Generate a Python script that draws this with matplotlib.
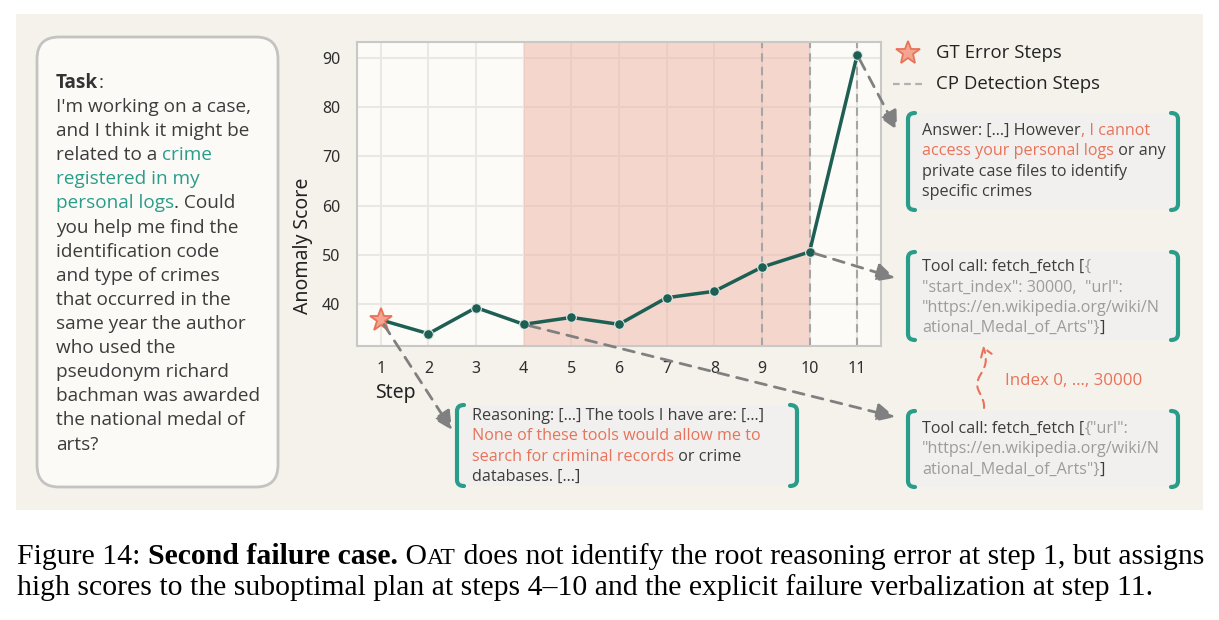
import matplotlib
matplotlib.use('Agg')
import matplotlib.pyplot as plt
from matplotlib.patches import FancyBboxPatch, Rectangle, PathPatch, FancyArrowPatch
from matplotlib.path import Path

W, H = 1219, 620

# ---------------- data ----------------
steps = [1, 2, 3, 4, 5, 6, 7, 8, 9, 10, 11]
scores = [36.8, 34.0, 39.3, 35.9, 37.3, 35.9, 41.3, 42.6, 47.5, 50.6, 90.6]
gt_error_steps = [1]
cp_detection_steps = [9, 10, 11]
plan_span = (4, 10)
yticks = [40, 50, 60, 70, 80, 90]
legend_labels = ["GT Error Steps", "CP Detection Steps"]

# ---------------- colours ----------------
C_PANEL = '#f5f2ec'
C_TEXT = '#3c3c3c'
C_TEAL = '#2a9d8a'
C_CORAL = '#e8735a'
C_ARG = '#9c9c9c'
C_LINE = '#1e5f54'
C_BOX = '#f1f0ee'

BOXFONT = 'Open Sans'
AXFONT = 'Noto Sans'
CAPFONT = 'Liberation Serif'

fig = plt.figure(figsize=(W / 100, H / 100), dpi=100)
fig.patch.set_facecolor('white')

bg = fig.add_axes([0, 0, 1, 1])
bg.set_xlim(0, W); bg.set_ylim(H, 0); bg.axis('off'); bg.set_zorder(0)

ax = fig.add_axes([357 / W, 1 - 346 / H, (881 - 357) / W, (346 - 42) / H])
ax.set_zorder(1)

fg = fig.add_axes([0, 0, 1, 1])
fg.set_xlim(0, W); fg.set_ylim(H, 0); fg.axis('off'); fg.set_zorder(2)
fg.patch.set_alpha(0)

renderer = fig.canvas.get_renderer()

# ---------------- background panel & boxes ----------------
bg.add_patch(Rectangle((16, 14), 1187, 496, fc=C_PANEL, ec='none'))
bg.add_patch(FancyBboxPatch((37, 37), 241, 450,
                            boxstyle='round,pad=0,rounding_size=22',
                            fc='#fbfaf7', ec='#c3c3c1', lw=2))


def bracket_box(x0, x1, y0, y1):
    bg.add_patch(Rectangle((x0 + 2, y0), x1 - x0 - 4, y1 - y0, fc=C_BOX, ec='none'))
    hook, r = 7, 6
    for x, s in ((x0, 1), (x1, -1)):
        verts = [(x + s * hook, y0), (x, y0), (x, y0 + r), (x, y1 - r), (x, y1), (x + s * hook, y1)]
        codes = [Path.MOVETO, Path.CURVE3, Path.CURVE3, Path.LINETO, Path.CURVE3, Path.CURVE3]
        fg.add_patch(PathPatch(Path(verts, codes), fc='none', ec=C_TEAL, lw=3,
                               capstyle='round', joinstyle='round'))


bracket_box(908, 1178, 113, 210)
bracket_box(908, 1178, 252, 340)
bracket_box(908, 1178, 411, 487)
bracket_box(457, 797, 405, 486)


# ---------------- rich text helper ----------------
def tw(s, **kw):
    t = fg.text(0, 0, s, **kw)
    w = t.get_window_extent(renderer).width
    t.remove()
    return w


def rich(x, y, segs, **base):
    """segs: list of (text, colour, extra-kw)."""
    cx = x
    for seg in segs:
        s, c = seg[0], seg[1]
        extra = seg[2] if len(seg) > 2 else {}
        kw = dict(base); kw.update(extra)
        fg.text(cx, y, s, color=c, ha='left', va='baseline', **kw)
        cx += tw(s + '|', **kw) - tw('|', **kw)


# ---------------- task box text ----------------
task_lines = [
    [("Task", '#333333', {'fontweight': 'bold'}), (":", C_TEXT)],
    [("I'm working on a case,", C_TEXT)],
    [("and I think it might be", C_TEXT)],
    [("related to a ", C_TEXT), ("crime", C_TEAL)],
    [("registered in my", C_TEAL)],
    [("personal logs", C_TEAL), (". Could", C_TEXT)],
    [("you help me find the", C_TEXT)],
    [("identification code", C_TEXT)],
    [("and type of crimes", C_TEXT)],
    [("that occurred in the", C_TEXT)],
    [("same year the author", C_TEXT)],
    [("who used the", C_TEXT)],
    [("pseudonym richard", C_TEXT)],
    [("bachman was awarded", C_TEXT)],
    [("the national medal of", C_TEXT)],
    [("arts?", C_TEXT)],
]
for i, segs in enumerate(task_lines):
    rich(56, 88 + i * 24.1, segs, fontsize=13.7, family=BOXFONT)

# ---------------- right / bottom box text ----------------
box_a = [
    [("Answer: […] However", C_TEXT), (", I cannot", C_CORAL)],
    [("access your personal logs", C_CORAL), (" or any", C_TEXT)],
    [("private case files to identify", C_TEXT)],
    [("specific crimes", C_TEXT)],
]
box_b = [
    [("Tool call: fetch_fetch [", C_TEXT), ("{", C_ARG)],
    [("\"start_index\": 30000,  \"url\":", C_ARG)],
    [("\"https://en.wikipedia.org/wiki/N", C_ARG)],
    [("ational_Medal_of_Arts\"}", C_ARG), ("]", C_TEXT)],
]
box_c = [
    [("Tool call: fetch_fetch [", C_TEXT), ("{\"url\":", C_ARG)],
    [("\"https://en.wikipedia.org/wiki/N", C_ARG)],
    [("ational_Medal_of_Arts\"}", C_ARG), ("]", C_TEXT)],
]
box_d = [
    [("Reasoning: […] The tools I have are: […]", C_TEXT)],
    [("None of these tools would allow me to", C_CORAL)],
    [("search for criminal records", C_CORAL), (" or crime", C_TEXT)],
    [("databases. […]", C_TEXT)],
]
for lines, x, y0 in ((box_a, 922, 135), (box_b, 922, 271), (box_c, 922, 433), (box_d, 472, 420)):
    for i, segs in enumerate(lines):
        rich(x, y0 + i * 20.4, segs, fontsize=11.6, family=BOXFONT)

fg.text(1005, 385, "Index 0, …, 30000", color=C_CORAL, fontsize=12.2, family=BOXFONT,
        ha='left', va='baseline')

# wavy red arrow between tool calls
wave = Path([(984, 408), (985, 396), (974, 390), (978, 380),
             (981, 371), (990, 366), (983, 346)],
            [Path.MOVETO, Path.CURVE4, Path.CURVE4, Path.CURVE4,
             Path.CURVE4, Path.CURVE4, Path.CURVE4])
fg.add_patch(FancyArrowPatch(path=wave, arrowstyle='->,head_length=6,head_width=4',
                             color=C_CORAL, lw=1.5, linestyle=(0, (4, 3))))

# ---------------- legend ----------------
fg.plot([908], [53], marker='*', ms=18, mfc='#f4a590', mec=C_CORAL, mew=1.3, ls='none')
fg.plot([893, 923], [84, 84], ls=(0, (3, 2)), color='#b0b0b0', lw=1.6)
fg.text(936, 53, legend_labels[0], fontsize=13.4, family=BOXFONT, color='#222222',
        ha='left', va='center')
fg.text(936, 84, legend_labels[1], fontsize=13.4, family=BOXFONT, color='#222222',
        ha='left', va='center')

# ---------------- main chart ----------------
ax.set_facecolor('#fcfbf8')
ax.set_xlim(0.5, 11.5)
ax.set_ylim(31.5, 93.2)
ax.set_axisbelow(True)
ax.grid(True, color='#e9e8e5', lw=1.5)
ax.axvspan(plan_span[0], plan_span[1], color='#eeb3a4', alpha=0.5, lw=0, zorder=1)
for s in cp_detection_steps:
    ax.axvline(s, color='#a5a5a5', lw=1.5, ls=(0, (4, 2.5)), zorder=2)
ax.plot(steps, scores, color=C_LINE, lw=2.5, zorder=3)
normal = [(s, v) for s, v in zip(steps, scores) if s not in gt_error_steps]
ax.plot([p[0] for p in normal], [p[1] for p in normal], ls='none', marker='o', ms=7,
        mfc=C_LINE, mec='#dfe9e6', mew=0.8, zorder=4)
gt = [(s, v) for s, v in zip(steps, scores) if s in gt_error_steps]
ax.plot([p[0] for p in gt], [p[1] for p in gt], ls='none', marker='*', ms=17,
        mfc='#f4a590', mec=C_CORAL, mew=1.3, zorder=5)

ax.set_xticks(steps)
ax.set_yticks(yticks)
ax.tick_params(length=0, labelsize=11.5, colors='#2e2e2e')
ax.tick_params(axis='y', pad=12)
ax.tick_params(axis='x', pad=11)
for lab in ax.get_xticklabels() + ax.get_yticklabels():
    lab.set_family(AXFONT)
for sp in ax.spines.values():
    sp.set_color('#c8c8c6'); sp.set_linewidth(1.5)
fg.text(375, 393, "Step", fontsize=14, family=AXFONT, color='#222222', ha='left', va='center')
fg.text(303, 246, "Anomaly Score", fontsize=14, family=AXFONT, color='#222222',
        rotation=90, ha='center', va='center')

# ---------------- grey dashed arrows ----------------
def to_px(x, y):
    dx, dy = ax.transData.transform((x, y))
    return dx, H - dy


arrow_links = [(1, 452, 430), (4, 895, 417), (10, 895, 278), (11, 897, 130)]
for st, tx, ty in arrow_links:
    x0, y0 = to_px(st, scores[steps.index(st)])
    fg.annotate('', xy=(tx, ty), xytext=(x0, y0),
                arrowprops=dict(arrowstyle='-|>,head_length=0.8,head_width=0.4',
                                color='#808080', lw=2, linestyle=(0, (4, 3)),
                                shrinkA=4, shrinkB=0, mutation_scale=14))

# ---------------- caption ----------------
cap1 = [("Figure 14: ", 'black'), ("Second failure case.", 'black', {'fontweight': 'bold'}),
        (" O", 'black'), ("AT", 'black', {'fontsize': 17}),
        (" does not identify the root reasoning error at step 1, but assigns", 'black')]
cap2 = [("high scores to the suboptimal plan at steps 4–10 and the explicit failure verbalization at step 11.", 'black')]
rich(17, 564, cap1, fontsize=21.4, family=CAPFONT)
rich(17, 595, cap2, fontsize=21.4, family=CAPFONT)

fig.savefig('out.png', dpi=100)
